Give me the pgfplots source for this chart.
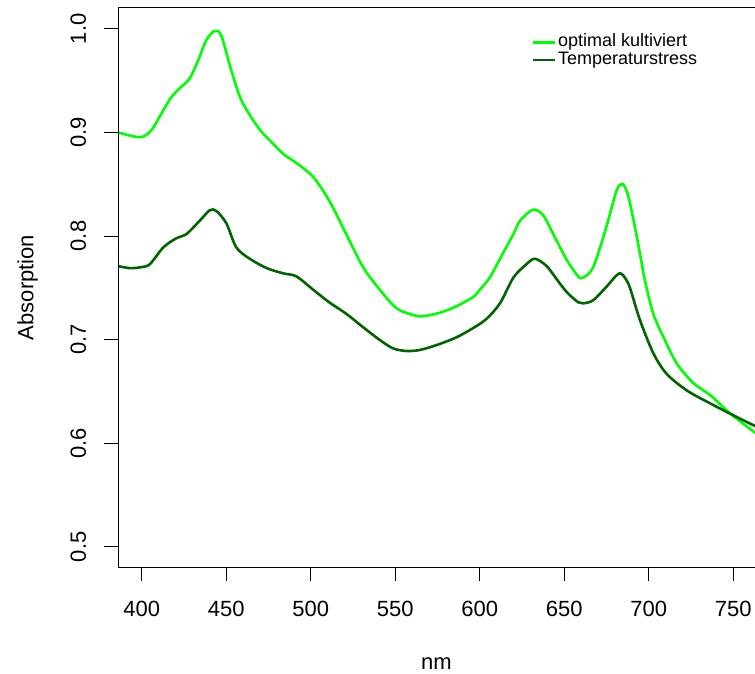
\documentclass[border=0pt]{standalone}
\usepackage{pgfplots}
\pgfplotsset{compat=1.18}
\usepackage{fontspec}
\setmainfont{Liberation Sans}
\definecolor{optgreen}{HTML}{00FF00}
\definecolor{tempgreen}{HTML}{006400}
\pgfplotstableread{
x y
386 0.900
393 0.897
400 0.8955
405.7 0.902
411.6 0.918
417.5 0.934
423.4 0.944
428.4 0.952
433.3 0.969
438.2 0.989
443.2 0.998
447.1 0.9935
453 0.960
459 0.931
468.8 0.905
476 0.892
484 0.879
492 0.870
501.5 0.857
511 0.834
521 0.802
531 0.770
541 0.748
551 0.730
561 0.7236
566.6 0.7226
576.5 0.726
586 0.732
596 0.741
600 0.748
606 0.760
613 0.781
620 0.802
624 0.815
631.7 0.8255
637.6 0.820
643.5 0.802
651.5 0.777
658.3 0.761
661.3 0.760
667.2 0.770
675 0.809
681 0.844
684.6 0.850
688 0.838
693 0.799
697.8 0.757
702.7 0.725
708.6 0.703
716.6 0.677
726.4 0.658
736.3 0.6465
748 0.629
763 0.610
}\optimal
\pgfplotstableread{
x y
386 0.771
393 0.769
400 0.770
405 0.773
412.8 0.789
420.7 0.798
426.6 0.802
434.5 0.815
440.4 0.825
444.3 0.824
450.2 0.812
456 0.789
464 0.778
474 0.769
483.7 0.764
491.6 0.761
501.6 0.748
511 0.736
521 0.725
531 0.712
541 0.6995
548.8 0.6915
556.7 0.689
564.6 0.690
574.4 0.6947
586 0.702
596 0.711
604 0.720
612 0.735
620 0.760
627.8 0.773
632.7 0.778
639.6 0.771
647.5 0.754
652 0.745
658.3 0.736
661.3 0.735
667.2 0.738
675 0.751
682.6 0.764
687 0.757
689.5 0.747
694.8 0.719
702.7 0.687
710.6 0.667
722.5 0.651
736.3 0.6385
750 0.627
763 0.6165
}\temp
\begin{document}
\begin{tikzpicture}
\useasboundingbox (0pt,0pt) rectangle (755pt,673pt);
\begin{axis}[
  at={(118pt,106pt)}, anchor=south west,
  scale only axis, width=637pt, height=559pt,
  xmin=386, xmax=762.9, ymin=0.4805, ymax=1.0201,
  axis line style={draw=none},
  xtick={400,450,...,750},
  ytick={0.5,0.6,0.7,0.8,0.9,1.0},
  yticklabels={0.5,0.6,0.7,0.8,0.9,1.0},
  tick align=outside, major tick length=14pt,
  xtick pos=bottom, ytick pos=left,
  every tick/.style={black, line width=1pt},
  /pgf/number format/assume math mode=true,
  ticklabel style={font=\fontsize{22}{26}\selectfont, inner sep=0pt},
  xticklabel style={anchor=base, yshift=-35pt},
  yticklabel style={rotate=90, anchor=base, yshift=18pt},
  xlabel={nm}, ylabel={Absorption},
  label style={font=\fontsize{22}{26}\selectfont},
  xlabel style={at={(0.5,0)}, anchor=base, yshift=-102pt, inner sep=0pt},
  ylabel style={at={(0,0.5)}, anchor=base, rotate=0, yshift=84.7pt, inner sep=0pt},
  legend style={at={(0.6495,0.954)}, anchor=north west, draw=none, fill=none,
    font=\fontsize{18}{20}\selectfont, inner sep=0pt, column sep=2pt,
    nodes={inner sep=0pt, text height=13pt, text depth=4.6pt}},
  legend cell align=left,
  legend image code/.code={\draw[#1] (0pt,0.5pt) -- (21.6pt,0.5pt);},
]
\addplot[optgreen, line width=2.6pt, smooth, tension=0.5] table {\optimal};
\addlegendentry{optimal kultiviert}
\addplot[tempgreen, line width=2.6pt, smooth, tension=0.5] table {\temp};
\addlegendentry{Temperaturstress}
\end{axis}
\draw[line width=1pt] (755pt,106pt) -- (118pt,106pt) -- (118pt,665pt) -- (755pt,665pt);
\end{tikzpicture}
\end{document}
